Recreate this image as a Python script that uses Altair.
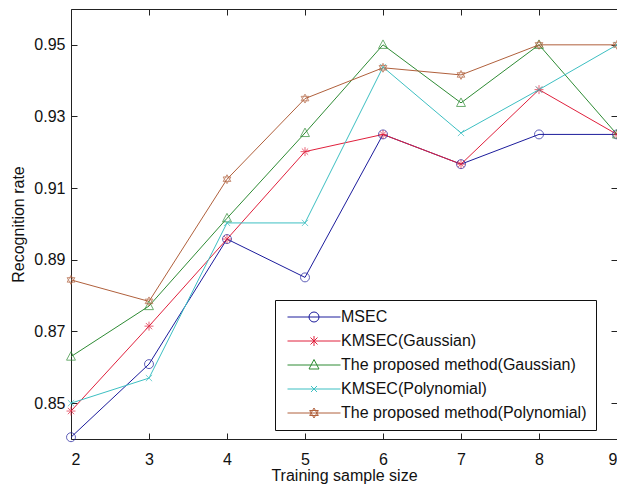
import altair as alt
import pandas as pd

sizes = [2, 3, 4, 5, 6, 7, 8, 9]
msec = [0.8405, 0.8609, 0.8958, 0.8851, 0.9250, 0.9167, 0.9250, 0.9250]
kmsec_gauss = [0.8478, 0.8715, 0.8958, 0.9202, 0.9250, 0.9167, 0.9375, 0.9250]
proposed_gauss = [0.8630, 0.8771, 0.9016, 0.9254, 0.9500, 0.9338, 0.9500, 0.9250]
kmsec_poly = [0.8500, 0.8570, 0.9003, 0.9003, 0.9438, 0.9254, 0.9375, 0.9500]
proposed_poly = [0.8844, 0.8784, 0.9125, 0.9350, 0.9436, 0.9416, 0.9500, 0.9500]

series_names = [
    "MSEC",
    "KMSEC(Gaussian)",
    "The proposed method(Gaussian)",
    "KMSEC(Polynomial)",
    "The proposed method(Polynomial)",
]
series_colors = ["#1c1c9c", "#e0203c", "#2e8b34", "#3dbfc2", "#b0603c"]

x_ticks = [2, 3, 4, 5, 6, 7, 8, 9]
y_ticks = [0.85, 0.87, 0.89, 0.91, 0.93, 0.95]

# marker shapes (matlab style: o, *, ^, x, hexagram)
marker_paths = [
    "circle",
    "M-1,0L1,0M0,-1L0,1M-0.7,-0.7L0.7,0.7M-0.7,0.7L0.7,-0.7",
    "M0,-1.1L1,0.8L-1,0.8Z",
    "M-0.7,-0.7L0.7,0.7M-0.7,0.7L0.7,-0.7",
    "M0,-1L0.866,0.5L-0.866,0.5ZM0,1L0.866,-0.5L-0.866,-0.5Z",
]
# legend symbols: short line with the marker on it
seg = "M-5.3,0L5.3,0"
legend_paths = [
    seg + "M-1,0A1,1,0,1,0,1,0A1,1,0,1,0,-1,0",
    seg + "M0,-1L0,1M-0.7,-0.7L0.7,0.7M-0.7,0.7L0.7,-0.7",
    seg + "M0,-1.1L1,0.8L-1,0.8Z",
    seg + "M-0.6,-0.6L0.6,0.6M-0.6,0.6L0.6,-0.6",
    seg + "M0,-1L0.866,0.5L-0.866,0.5ZM0,1L0.866,-0.5L-0.866,-0.5Z",
]

rows = []
for name, vals in zip(series_names, [msec, kmsec_gauss, proposed_gauss, kmsec_poly, proposed_poly]):
    for s, v in zip(sizes, vals):
        rows.append({"size": s, "rate": v, "series": name})
df = pd.DataFrame(rows)

font = "Liberation Sans"
xs = alt.Scale(domain=[2, 9], nice=False)
ys = alt.Scale(domain=[0.84, 0.96], nice=False)


def colour(legend=None):
    return alt.Color("series:N", scale=alt.Scale(domain=series_names, range=series_colors), legend=legend)


tick_style = dict(domain=False, grid=False, tickSize=6, offset=-6, tickColor="#222")
text_style = dict(
    labelFont=font, labelFontSize=16, labelColor="#111",
    titleFont=font, titleFontSize=16, titleFontWeight="normal", titleColor="#111",
)

lines = alt.Chart(df).mark_line(strokeWidth=1).encode(
    x=alt.X("size:Q", scale=xs, title="Training sample size",
            axis=alt.Axis(orient="bottom", values=x_ticks, format="d", labelPadding=12, titlePadding=0,
                          **tick_style, **text_style)),
    y=alt.Y("rate:Q", scale=ys, title="Recognition rate",
            axis=alt.Axis(orient="left", values=y_ticks, format=".2f", labelPadding=6, titlePadding=7,
                          **tick_style, **text_style)),
    color=colour(),
    detail="series:N",
)

points = alt.Chart(df).mark_point(filled=False, strokeWidth=1, size=80).encode(
    x=alt.X("size:Q", scale=xs,
            axis=alt.Axis(orient="top", values=x_ticks, labels=False, title=None, **tick_style)),
    y=alt.Y("rate:Q", scale=ys,
            axis=alt.Axis(orient="right", values=y_ticks, labels=False, title=None, **tick_style)),
    color=colour(),
    shape=alt.Shape("series:N", scale=alt.Scale(domain=series_names, range=marker_paths), legend=None),
)

legend_layer = alt.Chart(df).mark_point(filled=False, opacity=0).encode(
    x=alt.X("size:Q", scale=xs, axis=None),
    y=alt.Y("rate:Q", scale=ys, axis=None),
    color=colour(alt.Legend(title=None)),
    shape=alt.Shape(
        "series:N",
        scale=alt.Scale(domain=series_names, range=legend_paths),
        legend=alt.Legend(
            title=None, orient="none", legendX=204, legendY=291,
            fillColor="white", strokeColor="#111", padding=9,
            symbolSize=100, symbolStrokeWidth=1, symbolOffset=22, symbolOpacity=1,
            labelOffset=19, labelFont=font, labelFontSize=16, labelColor="#111",
            labelLimit=0, rowPadding=8,
        ),
    ),
)

chart = (
    alt.layer(lines, points, legend_layer)
    .resolve_scale(color="independent", shape="independent")
    .resolve_axis(x="independent", y="independent")
    .properties(
        width=546, height=430,
        autosize=alt.AutoSizeParams(type="none"),
        padding={"left": 63, "top": 1, "right": 0, "bottom": 46},
    )
    .configure_view(stroke="#222", strokeWidth=1)
)

chart.save("out.html", embed_options={"renderer": "svg", "actions": False})
